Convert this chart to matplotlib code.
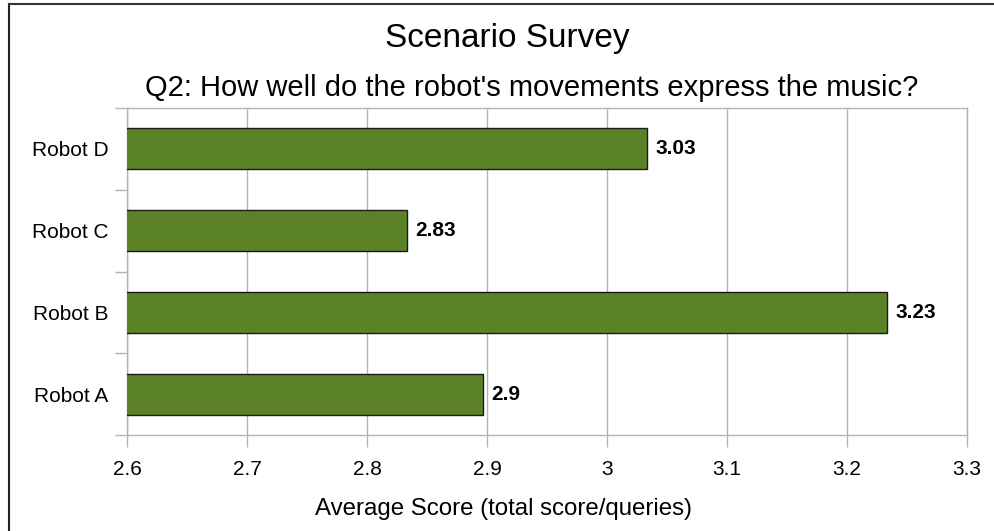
import numpy as np
from matplotlib import pyplot as plt

robots = ["Robot A", "Robot B", "Robot C", "Robot D"]
scores = [2.897, 3.2333, 2.8333, 3.0333]
score_labels = ["2.9", "3.23", "2.83", "3.03"]
xticks = [2.6, 2.7, 2.8, 2.9, 3.0, 3.1, 3.2, 3.3]
xtick_labels = ["2.6", "2.7", "2.8", "2.9", "3", "3.1", "3.2", "3.3"]

plt.rcParams['font.family'] = ['Liberation Sans', 'DejaVu Sans']

grid_col = '#b3b3b3'
bar_col = '#5c8227'

fig = plt.figure(figsize=(9.95, 5.31), dpi=100)
ax = fig.add_axes([127 / 995, 96 / 531, 840 / 995, 327 / 531])

y = np.arange(len(robots))
ax.barh(y, scores, height=0.5, color=bar_col, edgecolor='#1a1a1a', linewidth=1.0, zorder=3)
for yi, v, lab in zip(y, scores, score_labels):
    ax.annotate(lab, (v, yi), xytext=(6, 0), textcoords='offset points',
                ha='left', va='center', fontsize=15, fontweight='bold', color='black')

ax.set_xlim(2.6, 3.3)
ax.set_ylim(-0.5, len(robots) - 0.5)
ax.set_xticks(xticks)
ax.set_xticklabels(xtick_labels, fontsize=15)
ax.xaxis.grid(True, color=grid_col, linewidth=1.0, zorder=0)
ax.tick_params(axis='x', length=8.6, width=1.0, color=grid_col, pad=9.5)

# boundary ticks (no labels) + category labels at centres
ax.set_yticks(np.arange(-0.5, len(robots), 1.0))
ax.set_yticklabels([])
ax.set_yticks(y, minor=True)
ax.set_yticklabels(robots, minor=True, fontsize=15)
ax.tick_params(axis='y', which='major', length=8.6, width=1.0, color=grid_col)
ax.tick_params(axis='y', which='minor', length=0, pad=13.5)

for s in ax.spines.values():
    s.set_color(grid_col)
    s.set_linewidth(1.0)

fig.text(507 / 995, 1 - 38 / 531, "Scenario Survey", ha='center', va='center', fontsize=24)
fig.text(532 / 995, 1 - 88 / 531, "Q2: How well do the robot's movements express the music?",
         ha='center', va='center', fontsize=21)
fig.text(504 / 995, 1 - 509 / 531, "Average Score (total score/queries)",
         ha='center', va='center', fontsize=17.3)

# outer frame (left and top edges visible)
fig.add_artist(plt.Line2D([9 / 995, 9 / 995], [0, 1 - 4 / 531], color='#222222', linewidth=1.5))
fig.add_artist(plt.Line2D([9 / 995, 1], [1 - 4 / 531, 1 - 4 / 531], color='#333333', linewidth=1.5))

fig.savefig("out.png", dpi=100)
